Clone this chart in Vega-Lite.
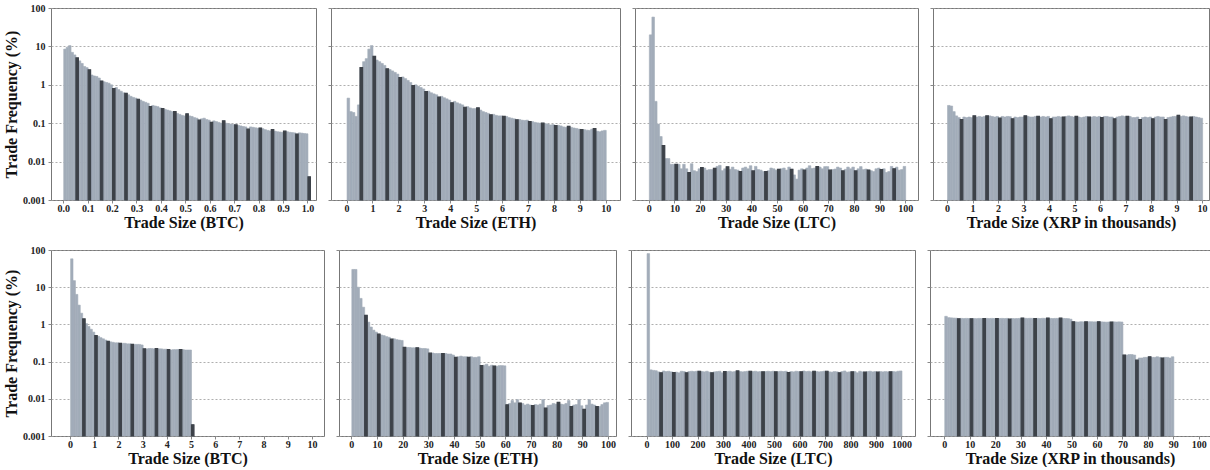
{
"$schema": "https://vega.github.io/schema/vega-lite/v6.json",
"background": "white",
"padding": {"left": 3, "top": 2, "right": 2, "bottom": 0},
"config": {
  "font": "Liberation Serif",
  "view": {"stroke": "#777777", "strokeWidth": 1},
  "bar": {"binSpacing": 0},
  "axis": {"labelFont": "Liberation Serif", "labelFontWeight": "bold", "labelFontSize": 10, "labelColor": "#222222", "titleFont": "Liberation Serif", "titleFontWeight": "bold", "titleFontSize": 16, "titleColor": "#111111", "domain": false, "tickColor": "#888888", "tickSize": 3, "gridColor": "#9a9a9a", "gridDash": [2, 2], "gridWidth": 0.8},
  "axisX": {"grid": false, "labelPadding": 0, "titlePadding": 1},
  "axisY": {"grid": true, "labelPadding": 3, "titlePadding": 3}
},
"datasets": {
"b1": [{"x":0,"y":8.5},{"x":0.01,"y":9.5},{"x":0.02,"y":10.5},{"x":0.03,"y":7},{"x":0.04,"y":6},{"x":0.05,"y":5,"r":1},{"x":0.06,"y":4.2},{"x":0.07,"y":3.6},{"x":0.08,"y":3},{"x":0.09,"y":2.8},{"x":0.1,"y":2.45,"r":1},{"x":0.11,"y":1.8},{"x":0.12,"y":1.7},{"x":0.13,"y":1.65},{"x":0.14,"y":1.5},{"x":0.15,"y":1.25,"r":1},{"x":0.16,"y":1.2},{"x":0.17,"y":1.15},{"x":0.18,"y":1.1},{"x":0.19,"y":1},{"x":0.2,"y":0.8,"r":1},{"x":0.21,"y":0.85},{"x":0.22,"y":0.75},{"x":0.23,"y":0.68},{"x":0.24,"y":0.62},{"x":0.25,"y":0.6,"r":1},{"x":0.26,"y":0.55},{"x":0.27,"y":0.5},{"x":0.28,"y":0.47},{"x":0.29,"y":0.45},{"x":0.3,"y":0.42,"r":1},{"x":0.31,"y":0.4},{"x":0.32,"y":0.37},{"x":0.33,"y":0.35},{"x":0.34,"y":0.33},{"x":0.35,"y":0.27,"r":1},{"x":0.36,"y":0.29},{"x":0.37,"y":0.28},{"x":0.38,"y":0.27},{"x":0.39,"y":0.25},{"x":0.4,"y":0.24,"r":1},{"x":0.41,"y":0.23},{"x":0.42,"y":0.22},{"x":0.43,"y":0.21},{"x":0.44,"y":0.2},{"x":0.45,"y":0.2,"r":1},{"x":0.46,"y":0.18},{"x":0.47,"y":0.17},{"x":0.48,"y":0.16},{"x":0.49,"y":0.155},{"x":0.5,"y":0.175,"r":1},{"x":0.51,"y":0.155},{"x":0.52,"y":0.15},{"x":0.53,"y":0.14},{"x":0.54,"y":0.135},{"x":0.55,"y":0.12,"r":1},{"x":0.56,"y":0.13},{"x":0.57,"y":0.135},{"x":0.58,"y":0.125},{"x":0.59,"y":0.12},{"x":0.6,"y":0.105,"r":1},{"x":0.61,"y":0.115},{"x":0.62,"y":0.11},{"x":0.63,"y":0.105},{"x":0.64,"y":0.1},{"x":0.65,"y":0.115,"r":1},{"x":0.66,"y":0.1},{"x":0.67,"y":0.097},{"x":0.68,"y":0.095},{"x":0.69,"y":0.093},{"x":0.7,"y":0.09,"r":1},{"x":0.71,"y":0.088},{"x":0.72,"y":0.085},{"x":0.73,"y":0.082},{"x":0.74,"y":0.08},{"x":0.75,"y":0.07,"r":1},{"x":0.76,"y":0.08},{"x":0.77,"y":0.078},{"x":0.78,"y":0.076},{"x":0.79,"y":0.074},{"x":0.8,"y":0.075,"r":1},{"x":0.81,"y":0.072},{"x":0.82,"y":0.068},{"x":0.83,"y":0.065},{"x":0.84,"y":0.063},{"x":0.85,"y":0.068,"r":1},{"x":0.86,"y":0.062},{"x":0.87,"y":0.06},{"x":0.88,"y":0.059},{"x":0.89,"y":0.058},{"x":0.9,"y":0.062,"r":1},{"x":0.91,"y":0.06},{"x":0.92,"y":0.058},{"x":0.93,"y":0.057},{"x":0.94,"y":0.056},{"x":0.95,"y":0.052,"r":1},{"x":0.96,"y":0.056},{"x":0.97,"y":0.055},{"x":0.98,"y":0.054},{"x":0.99,"y":0.053},{"x":1,"y":0.004,"r":1}],
"e1": [{"x":0,"y":0.45},{"x":0.1,"y":0.2},{"x":0.2,"y":0.19},{"x":0.3,"y":0.15},{"x":0.4,"y":0.3},{"x":0.5,"y":2.8,"r":1},{"x":0.6,"y":4},{"x":0.7,"y":4.8},{"x":0.8,"y":8.5},{"x":0.9,"y":10.5},{"x":1,"y":5.5,"r":1},{"x":1.1,"y":4.4},{"x":1.2,"y":4},{"x":1.3,"y":3.6},{"x":1.4,"y":3.2},{"x":1.5,"y":2.6,"r":1},{"x":1.6,"y":2.5},{"x":1.7,"y":2.3},{"x":1.8,"y":2.1},{"x":1.9,"y":1.9},{"x":2,"y":1.55,"r":1},{"x":2.1,"y":1.6},{"x":2.2,"y":1.45},{"x":2.3,"y":1.3},{"x":2.4,"y":1.15},{"x":2.5,"y":0.95,"r":1},{"x":2.6,"y":1},{"x":2.7,"y":0.92},{"x":2.8,"y":0.85},{"x":2.9,"y":0.78},{"x":3,"y":0.67,"r":1},{"x":3.1,"y":0.68},{"x":3.2,"y":0.62},{"x":3.3,"y":0.58},{"x":3.4,"y":0.55},{"x":3.5,"y":0.48,"r":1},{"x":3.6,"y":0.5},{"x":3.7,"y":0.46},{"x":3.8,"y":0.43},{"x":3.9,"y":0.4},{"x":4,"y":0.34,"r":1},{"x":4.1,"y":0.37},{"x":4.2,"y":0.34},{"x":4.3,"y":0.32},{"x":4.4,"y":0.3},{"x":4.5,"y":0.26,"r":1},{"x":4.6,"y":0.27},{"x":4.7,"y":0.25},{"x":4.8,"y":0.24},{"x":4.9,"y":0.24},{"x":5,"y":0.25,"r":1},{"x":5.1,"y":0.22},{"x":5.2,"y":0.2},{"x":5.3,"y":0.19},{"x":5.4,"y":0.18},{"x":5.5,"y":0.165,"r":1},{"x":5.6,"y":0.17},{"x":5.7,"y":0.16},{"x":5.8,"y":0.155},{"x":5.9,"y":0.155},{"x":6,"y":0.15,"r":1},{"x":6.1,"y":0.15},{"x":6.2,"y":0.14},{"x":6.3,"y":0.135},{"x":6.4,"y":0.13},{"x":6.5,"y":0.123,"r":1},{"x":6.6,"y":0.125},{"x":6.7,"y":0.12},{"x":6.8,"y":0.118},{"x":6.9,"y":0.12},{"x":7,"y":0.11,"r":1},{"x":7.1,"y":0.11},{"x":7.2,"y":0.105},{"x":7.3,"y":0.102},{"x":7.4,"y":0.1},{"x":7.5,"y":0.1,"r":1},{"x":7.6,"y":0.097},{"x":7.7,"y":0.095},{"x":7.8,"y":0.09},{"x":7.9,"y":0.092},{"x":8,"y":0.087,"r":1},{"x":8.1,"y":0.088},{"x":8.2,"y":0.085},{"x":8.3,"y":0.08},{"x":8.4,"y":0.078},{"x":8.5,"y":0.083,"r":1},{"x":8.6,"y":0.078},{"x":8.7,"y":0.075},{"x":8.8,"y":0.073},{"x":8.9,"y":0.07},{"x":9,"y":0.068,"r":1},{"x":9.1,"y":0.068},{"x":9.2,"y":0.066},{"x":9.3,"y":0.065},{"x":9.4,"y":0.07},{"x":9.5,"y":0.072,"r":1},{"x":9.6,"y":0.062},{"x":9.7,"y":0.06},{"x":9.8,"y":0.063},{"x":9.9,"y":0.065}],
"l1": [{"x":0,"y":20},{"x":1,"y":58},{"x":2,"y":0.37},{"x":3,"y":0.095},{"x":4,"y":0.045},{"x":5,"y":0.026,"r":1},{"x":6,"y":0.012},{"x":7,"y":0.012},{"x":8,"y":0.0085},{"x":9,"y":0.0085},{"x":10,"y":0.0085,"r":1},{"x":11,"y":0.0085},{"x":12,"y":0.0065},{"x":13,"y":0.0085},{"x":14,"y":0.0065},{"x":15,"y":0.0052,"r":1},{"x":16,"y":0.0088},{"x":17,"y":0.0058},{"x":18,"y":0.0055},{"x":19,"y":0.0065},{"x":20,"y":0.007,"r":1},{"x":21,"y":0.0068},{"x":22,"y":0.006},{"x":23,"y":0.0062},{"x":24,"y":0.0062},{"x":25,"y":0.0067,"r":1},{"x":26,"y":0.0075},{"x":27,"y":0.008},{"x":28,"y":0.0058},{"x":29,"y":0.0065},{"x":30,"y":0.0073,"r":1},{"x":31,"y":0.0063},{"x":32,"y":0.0072},{"x":33,"y":0.0062},{"x":34,"y":0.006},{"x":35,"y":0.0055,"r":1},{"x":36,"y":0.0068},{"x":37,"y":0.0072},{"x":38,"y":0.0065},{"x":39,"y":0.0078},{"x":40,"y":0.0057,"r":1},{"x":41,"y":0.0075},{"x":42,"y":0.0062},{"x":43,"y":0.006},{"x":44,"y":0.0055},{"x":45,"y":0.0055,"r":1},{"x":46,"y":0.0058},{"x":47,"y":0.0068},{"x":48,"y":0.0065},{"x":49,"y":0.006},{"x":50,"y":0.0063,"r":1},{"x":51,"y":0.0065},{"x":52,"y":0.0068},{"x":53,"y":0.006},{"x":54,"y":0.0072},{"x":55,"y":0.0063,"r":1},{"x":56,"y":0.0045},{"x":57,"y":0.0035},{"x":58,"y":0.006},{"x":59,"y":0.0065},{"x":60,"y":0.006,"r":1},{"x":61,"y":0.0068},{"x":62,"y":0.0078},{"x":63,"y":0.0066},{"x":64,"y":0.0068},{"x":65,"y":0.0074,"r":1},{"x":66,"y":0.0072},{"x":67,"y":0.0065},{"x":68,"y":0.0074},{"x":69,"y":0.0074},{"x":70,"y":0.006,"r":1},{"x":71,"y":0.0062},{"x":72,"y":0.0064},{"x":73,"y":0.0072},{"x":74,"y":0.0068},{"x":75,"y":0.0057,"r":1},{"x":76,"y":0.0063},{"x":77,"y":0.0072},{"x":78,"y":0.0065},{"x":79,"y":0.0072},{"x":80,"y":0.0057,"r":1},{"x":81,"y":0.0065},{"x":82,"y":0.0074},{"x":83,"y":0.0062},{"x":84,"y":0.0064},{"x":85,"y":0.006,"r":1},{"x":86,"y":0.0058},{"x":87,"y":0.0055},{"x":88,"y":0.0065},{"x":89,"y":0.0068},{"x":90,"y":0.0062,"r":1},{"x":91,"y":0.0065},{"x":92,"y":0.0052},{"x":93,"y":0.0055},{"x":94,"y":0.0075},{"x":95,"y":0.0065,"r":1},{"x":96,"y":0.0072},{"x":97,"y":0.006},{"x":98,"y":0.0062},{"x":99,"y":0.0075}],
"x1": [{"x":0,"y":0.29},{"x":0.1,"y":0.28},{"x":0.2,"y":0.2},{"x":0.3,"y":0.155},{"x":0.4,"y":0.14},{"x":0.5,"y":0.125,"r":1},{"x":0.6,"y":0.145},{"x":0.7,"y":0.14},{"x":0.8,"y":0.145},{"x":0.9,"y":0.14},{"x":1,"y":0.155,"r":1},{"x":1.1,"y":0.145},{"x":1.2,"y":0.15},{"x":1.3,"y":0.145},{"x":1.4,"y":0.15},{"x":1.5,"y":0.155,"r":1},{"x":1.6,"y":0.155},{"x":1.7,"y":0.15},{"x":1.8,"y":0.145},{"x":1.9,"y":0.15},{"x":2,"y":0.135,"r":1},{"x":2.1,"y":0.15},{"x":2.2,"y":0.145},{"x":2.3,"y":0.15},{"x":2.4,"y":0.148},{"x":2.5,"y":0.13,"r":1},{"x":2.6,"y":0.145},{"x":2.7,"y":0.14},{"x":2.8,"y":0.145},{"x":2.9,"y":0.145},{"x":3,"y":0.155,"r":1},{"x":3.1,"y":0.15},{"x":3.2,"y":0.145},{"x":3.3,"y":0.145},{"x":3.4,"y":0.15},{"x":3.5,"y":0.15,"r":1},{"x":3.6,"y":0.145},{"x":3.7,"y":0.15},{"x":3.8,"y":0.145},{"x":3.9,"y":0.15},{"x":4,"y":0.13,"r":1},{"x":4.1,"y":0.145},{"x":4.2,"y":0.145},{"x":4.3,"y":0.15},{"x":4.4,"y":0.145},{"x":4.5,"y":0.145,"r":1},{"x":4.6,"y":0.15},{"x":4.7,"y":0.155},{"x":4.8,"y":0.15},{"x":4.9,"y":0.145},{"x":5,"y":0.15,"r":1},{"x":5.1,"y":0.145},{"x":5.2,"y":0.14},{"x":5.3,"y":0.145},{"x":5.4,"y":0.15},{"x":5.5,"y":0.145,"r":1},{"x":5.6,"y":0.145},{"x":5.7,"y":0.15},{"x":5.8,"y":0.145},{"x":5.9,"y":0.15},{"x":6,"y":0.14,"r":1},{"x":6.1,"y":0.15},{"x":6.2,"y":0.15},{"x":6.3,"y":0.145},{"x":6.4,"y":0.145},{"x":6.5,"y":0.13,"r":1},{"x":6.6,"y":0.145},{"x":6.7,"y":0.15},{"x":6.8,"y":0.155},{"x":6.9,"y":0.15},{"x":7,"y":0.15,"r":1},{"x":7.1,"y":0.15},{"x":7.2,"y":0.14},{"x":7.3,"y":0.14},{"x":7.4,"y":0.145},{"x":7.5,"y":0.125,"r":1},{"x":7.6,"y":0.14},{"x":7.7,"y":0.145},{"x":7.8,"y":0.14},{"x":7.9,"y":0.145},{"x":8,"y":0.13,"r":1},{"x":8.1,"y":0.145},{"x":8.2,"y":0.15},{"x":8.3,"y":0.145},{"x":8.4,"y":0.145},{"x":8.5,"y":0.125,"r":1},{"x":8.6,"y":0.14},{"x":8.7,"y":0.145},{"x":8.8,"y":0.15},{"x":8.9,"y":0.15},{"x":9,"y":0.16,"r":1},{"x":9.1,"y":0.15},{"x":9.2,"y":0.155},{"x":9.3,"y":0.15},{"x":9.4,"y":0.145},{"x":9.5,"y":0.145,"r":1},{"x":9.6,"y":0.15},{"x":9.7,"y":0.145},{"x":9.8,"y":0.14},{"x":9.9,"y":0.135}],
"b2": [{"x":0,"y":58},{"x":0.1,"y":15},{"x":0.2,"y":6.4},{"x":0.3,"y":3.3},{"x":0.4,"y":2},{"x":0.5,"y":1.4,"r":1},{"x":0.6,"y":1.05},{"x":0.7,"y":0.88},{"x":0.8,"y":0.74},{"x":0.9,"y":0.62},{"x":1,"y":0.5,"r":1},{"x":1.1,"y":0.48},{"x":1.2,"y":0.44},{"x":1.3,"y":0.41},{"x":1.4,"y":0.38},{"x":1.5,"y":0.35,"r":1},{"x":1.6,"y":0.34},{"x":1.7,"y":0.33},{"x":1.8,"y":0.32},{"x":1.9,"y":0.32},{"x":2,"y":0.31,"r":1},{"x":2.1,"y":0.31},{"x":2.2,"y":0.31},{"x":2.3,"y":0.3},{"x":2.4,"y":0.3},{"x":2.5,"y":0.29,"r":1},{"x":2.6,"y":0.29},{"x":2.7,"y":0.29},{"x":2.8,"y":0.29},{"x":2.9,"y":0.28},{"x":3,"y":0.22,"r":1},{"x":3.1,"y":0.22},{"x":3.2,"y":0.225},{"x":3.3,"y":0.225},{"x":3.4,"y":0.22},{"x":3.5,"y":0.225,"r":1},{"x":3.6,"y":0.22},{"x":3.7,"y":0.22},{"x":3.8,"y":0.215},{"x":3.9,"y":0.215},{"x":4,"y":0.21,"r":1},{"x":4.1,"y":0.205},{"x":4.2,"y":0.21},{"x":4.3,"y":0.21},{"x":4.4,"y":0.21},{"x":4.5,"y":0.21,"r":1},{"x":4.6,"y":0.21},{"x":4.7,"y":0.205},{"x":4.8,"y":0.205},{"x":4.9,"y":0.205},{"x":5,"y":0.002,"r":1}],
"e2": [{"x":0,"y":30},{"x":1,"y":30},{"x":2,"y":10},{"x":3,"y":5},{"x":4,"y":2.9},{"x":5,"y":1.75,"r":1},{"x":6,"y":1.15},{"x":7,"y":0.85},{"x":8,"y":0.7},{"x":9,"y":0.62},{"x":10,"y":0.55,"r":1},{"x":11,"y":0.52},{"x":12,"y":0.5},{"x":13,"y":0.47},{"x":14,"y":0.45},{"x":15,"y":0.4,"r":1},{"x":16,"y":0.41},{"x":17,"y":0.39},{"x":18,"y":0.38},{"x":19,"y":0.37},{"x":20,"y":0.24,"r":1},{"x":21,"y":0.24},{"x":22,"y":0.24},{"x":23,"y":0.235},{"x":24,"y":0.235},{"x":25,"y":0.235,"r":1},{"x":26,"y":0.23},{"x":27,"y":0.225},{"x":28,"y":0.225},{"x":29,"y":0.22},{"x":30,"y":0.168,"r":1},{"x":31,"y":0.17},{"x":32,"y":0.165},{"x":33,"y":0.165},{"x":34,"y":0.165},{"x":35,"y":0.165,"r":1},{"x":36,"y":0.165},{"x":37,"y":0.16},{"x":38,"y":0.16},{"x":39,"y":0.15},{"x":40,"y":0.13,"r":1},{"x":41,"y":0.135},{"x":42,"y":0.14},{"x":43,"y":0.135},{"x":44,"y":0.135},{"x":45,"y":0.13,"r":1},{"x":46,"y":0.135},{"x":47,"y":0.13},{"x":48,"y":0.13},{"x":49,"y":0.135},{"x":50,"y":0.078,"r":1},{"x":51,"y":0.08},{"x":52,"y":0.085},{"x":53,"y":0.075},{"x":54,"y":0.08},{"x":55,"y":0.076,"r":1},{"x":56,"y":0.075},{"x":57,"y":0.078},{"x":58,"y":0.078},{"x":59,"y":0.077},{"x":60,"y":0.0069,"r":1},{"x":61,"y":0.0075},{"x":62,"y":0.009},{"x":63,"y":0.0078},{"x":64,"y":0.0095},{"x":65,"y":0.0077,"r":1},{"x":66,"y":0.0075},{"x":67,"y":0.0068},{"x":68,"y":0.0072},{"x":69,"y":0.0068},{"x":70,"y":0.0066,"r":1},{"x":71,"y":0.007},{"x":72,"y":0.0068},{"x":73,"y":0.0072},{"x":74,"y":0.0095},{"x":75,"y":0.0056,"r":1},{"x":76,"y":0.0066},{"x":77,"y":0.0068},{"x":78,"y":0.0075},{"x":79,"y":0.0072},{"x":80,"y":0.008,"r":1},{"x":81,"y":0.0072},{"x":82,"y":0.007},{"x":83,"y":0.0075},{"x":84,"y":0.009},{"x":85,"y":0.0062,"r":1},{"x":86,"y":0.0068},{"x":87,"y":0.007},{"x":88,"y":0.0095},{"x":89,"y":0.0065},{"x":90,"y":0.0052,"r":1},{"x":91,"y":0.0068},{"x":92,"y":0.0095},{"x":93,"y":0.0072},{"x":94,"y":0.0068},{"x":95,"y":0.0062,"r":1},{"x":96,"y":0.0062},{"x":97,"y":0.007},{"x":98,"y":0.0078},{"x":99,"y":0.008}],
"l2": [{"x":0,"y":80},{"x":10,"y":0.06},{"x":20,"y":0.058},{"x":30,"y":0.057},{"x":40,"y":0.053},{"x":50,"y":0.05,"r":1},{"x":60,"y":0.056},{"x":70,"y":0.054},{"x":80,"y":0.055},{"x":90,"y":0.053},{"x":100,"y":0.051,"r":1},{"x":110,"y":0.052},{"x":120,"y":0.05},{"x":130,"y":0.055},{"x":140,"y":0.054},{"x":150,"y":0.05,"r":1},{"x":160,"y":0.054},{"x":170,"y":0.055},{"x":180,"y":0.054},{"x":190,"y":0.055},{"x":200,"y":0.055,"r":1},{"x":210,"y":0.054},{"x":220,"y":0.053},{"x":230,"y":0.055},{"x":240,"y":0.052},{"x":250,"y":0.05,"r":1},{"x":260,"y":0.053},{"x":270,"y":0.054},{"x":280,"y":0.055},{"x":290,"y":0.05},{"x":300,"y":0.054,"r":1},{"x":310,"y":0.054},{"x":320,"y":0.055},{"x":330,"y":0.053},{"x":340,"y":0.054},{"x":350,"y":0.056,"r":1},{"x":360,"y":0.054},{"x":370,"y":0.053},{"x":380,"y":0.054},{"x":390,"y":0.055},{"x":400,"y":0.055,"r":1},{"x":410,"y":0.054},{"x":420,"y":0.055},{"x":430,"y":0.053},{"x":440,"y":0.054},{"x":450,"y":0.053,"r":1},{"x":460,"y":0.054},{"x":470,"y":0.055},{"x":480,"y":0.054},{"x":490,"y":0.055},{"x":500,"y":0.053,"r":1},{"x":510,"y":0.054},{"x":520,"y":0.055},{"x":530,"y":0.054},{"x":540,"y":0.055},{"x":550,"y":0.051,"r":1},{"x":560,"y":0.054},{"x":570,"y":0.053},{"x":580,"y":0.055},{"x":590,"y":0.054},{"x":600,"y":0.053,"r":1},{"x":610,"y":0.056},{"x":620,"y":0.054},{"x":630,"y":0.055},{"x":640,"y":0.053},{"x":650,"y":0.055,"r":1},{"x":660,"y":0.054},{"x":670,"y":0.053},{"x":680,"y":0.054},{"x":690,"y":0.055},{"x":700,"y":0.055,"r":1},{"x":710,"y":0.053},{"x":720,"y":0.052},{"x":730,"y":0.054},{"x":740,"y":0.053},{"x":750,"y":0.05,"r":1},{"x":760,"y":0.054},{"x":770,"y":0.056},{"x":780,"y":0.052},{"x":790,"y":0.053},{"x":800,"y":0.053,"r":1},{"x":810,"y":0.054},{"x":820,"y":0.05},{"x":830,"y":0.055},{"x":840,"y":0.053},{"x":850,"y":0.052,"r":1},{"x":860,"y":0.054},{"x":870,"y":0.055},{"x":880,"y":0.053},{"x":890,"y":0.054},{"x":900,"y":0.052,"r":1},{"x":910,"y":0.054},{"x":920,"y":0.053},{"x":930,"y":0.054},{"x":940,"y":0.053},{"x":950,"y":0.053,"r":1},{"x":960,"y":0.054},{"x":970,"y":0.053},{"x":980,"y":0.055},{"x":990,"y":0.056}],
"x2": [{"x":0,"y":1.65},{"x":1,"y":1.52},{"x":2,"y":1.5},{"x":3,"y":1.48},{"x":4,"y":1.47},{"x":5,"y":1.42,"r":1},{"x":6,"y":1.45},{"x":7,"y":1.44},{"x":8,"y":1.45},{"x":9,"y":1.44},{"x":10,"y":1.42,"r":1},{"x":11,"y":1.44},{"x":12,"y":1.43},{"x":13,"y":1.45},{"x":14,"y":1.44},{"x":15,"y":1.43,"r":1},{"x":16,"y":1.45},{"x":17,"y":1.44},{"x":18,"y":1.45},{"x":19,"y":1.44},{"x":20,"y":1.43,"r":1},{"x":21,"y":1.44},{"x":22,"y":1.45},{"x":23,"y":1.44},{"x":24,"y":1.45},{"x":25,"y":1.38,"r":1},{"x":26,"y":1.44},{"x":27,"y":1.43},{"x":28,"y":1.44},{"x":29,"y":1.45},{"x":30,"y":1.48,"r":1},{"x":31,"y":1.46},{"x":32,"y":1.45},{"x":33,"y":1.46},{"x":34,"y":1.45},{"x":35,"y":1.44,"r":1},{"x":36,"y":1.45},{"x":37,"y":1.44},{"x":38,"y":1.46},{"x":39,"y":1.45},{"x":40,"y":1.47,"r":1},{"x":41,"y":1.45},{"x":42,"y":1.44},{"x":43,"y":1.45},{"x":44,"y":1.45},{"x":45,"y":1.47,"r":1},{"x":46,"y":1.45},{"x":47,"y":1.44},{"x":48,"y":1.43},{"x":49,"y":1.38},{"x":50,"y":1.18,"r":1},{"x":51,"y":1.17},{"x":52,"y":1.16},{"x":53,"y":1.18},{"x":54,"y":1.17},{"x":55,"y":1.17,"r":1},{"x":56,"y":1.18},{"x":57,"y":1.18},{"x":58,"y":1.17},{"x":59,"y":1.17},{"x":60,"y":1.18,"r":1},{"x":61,"y":1.17},{"x":62,"y":1.16},{"x":63,"y":1.15},{"x":64,"y":1.16},{"x":65,"y":1.16,"r":1},{"x":66,"y":1.17},{"x":67,"y":1.16},{"x":68,"y":1.17},{"x":69,"y":1.16},{"x":70,"y":0.15,"r":1},{"x":71,"y":0.15},{"x":72,"y":0.155},{"x":73,"y":0.155},{"x":74,"y":0.15},{"x":75,"y":0.11,"r":1},{"x":76,"y":0.125},{"x":77,"y":0.125},{"x":78,"y":0.13},{"x":79,"y":0.13},{"x":80,"y":0.135,"r":1},{"x":81,"y":0.13},{"x":82,"y":0.13},{"x":83,"y":0.135},{"x":84,"y":0.13},{"x":85,"y":0.125,"r":1},{"x":86,"y":0.13},{"x":87,"y":0.13},{"x":88,"y":0.125},{"x":89,"y":0.135}]
},
"spacing": 13,
"vconcat": [
{"spacing": 10, "hconcat": [
 {"width": 265, "height": 192, "data": {"name": "b1"},
  "encoding": {
   "x": {"field": "x", "type": "quantitative", "bin": {"binned": true, "step": 0.01}, "scale": {"domain": [-0.05, 1.035], "nice": false}, "axis": {"title": "Trade Size (BTC)", "values": [0, 0.1, 0.2, 0.3, 0.4, 0.5, 0.6, 0.7, 0.8, 0.9, 1], "format": ".1f"}},
   "y": {"field": "y", "type": "quantitative", "scale": {"type": "log", "domain": [0.001, 100], "nice": false}, "axis": {"title": "Trade Frequency (%)", "values": [0.001, 0.01, 0.1, 1, 10, 100], "format": "~g"}},
   "y2": {"datum": 0.001}},
  "layer": [
   {"mark": {"type": "bar", "color": "#a2acb9", "stroke": "#a2acb9", "strokeWidth": 0.6}},
   {"transform": [{"filter": "datum.r == 1"}], "mark": {"type": "bar", "color": "#3d4249", "stroke": "#3d4249", "strokeWidth": 1.2}}]},
 {"width": 289, "height": 192, "data": {"name": "e1"},
  "encoding": {
   "x": {"field": "x", "type": "quantitative", "bin": {"binned": true, "step": 0.1}, "scale": {"domain": [-0.6, 10.55], "nice": false}, "axis": {"title": "Trade Size (ETH)", "values": [0, 1, 2, 3, 4, 5, 6, 7, 8, 9, 10], "format": "d"}},
   "y": {"field": "y", "type": "quantitative", "scale": {"type": "log", "domain": [0.001, 100], "nice": false}, "axis": {"title": null, "labels": false, "values": [0.001, 0.01, 0.1, 1, 10, 100]}},
   "y2": {"datum": 0.001}},
  "layer": [
   {"mark": {"type": "bar", "color": "#a2acb9", "stroke": "#a2acb9", "strokeWidth": 0.6}},
   {"transform": [{"filter": "datum.r == 1"}], "mark": {"type": "bar", "color": "#3d4249", "stroke": "#3d4249", "strokeWidth": 1.2}}]},
 {"width": 283, "height": 192, "data": {"name": "l1"},
  "encoding": {
   "x": {"field": "x", "type": "quantitative", "bin": {"binned": true, "step": 1}, "scale": {"domain": [-5.4, 105], "nice": false}, "axis": {"title": "Trade Size (LTC)", "values": [0, 10, 20, 30, 40, 50, 60, 70, 80, 90, 100], "format": "d"}},
   "y": {"field": "y", "type": "quantitative", "scale": {"type": "log", "domain": [0.001, 100], "nice": false}, "axis": {"title": null, "labels": false, "values": [0.001, 0.01, 0.1, 1, 10, 100]}},
   "y2": {"datum": 0.001}},
  "layer": [
   {"mark": {"type": "bar", "color": "#a2acb9", "stroke": "#a2acb9", "strokeWidth": 0.6}},
   {"transform": [{"filter": "datum.r == 1"}], "mark": {"type": "bar", "color": "#3d4249", "stroke": "#3d4249", "strokeWidth": 1.2}}]},
 {"width": 276, "height": 192, "data": {"name": "x1"},
  "encoding": {
   "x": {"field": "x", "type": "quantitative", "bin": {"binned": true, "step": 0.1}, "scale": {"domain": [-0.55, 10.27], "nice": false}, "axis": {"title": "Trade Size (XRP in thousands)", "values": [0, 1, 2, 3, 4, 5, 6, 7, 8, 9, 10], "format": "d"}},
   "y": {"field": "y", "type": "quantitative", "scale": {"type": "log", "domain": [0.001, 100], "nice": false}, "axis": {"title": null, "labels": false, "values": [0.001, 0.01, 0.1, 1, 10, 100]}},
   "y2": {"datum": 0.001}},
  "layer": [
   {"mark": {"type": "bar", "color": "#a2acb9", "stroke": "#a2acb9", "strokeWidth": 0.6}},
   {"transform": [{"filter": "datum.r == 1"}], "mark": {"type": "bar", "color": "#3d4249", "stroke": "#3d4249", "strokeWidth": 1.2}}]}
]},
{"spacing": 10, "hconcat": [
 {"width": 273, "height": 186, "data": {"name": "b2"},
  "encoding": {
   "x": {"field": "x", "type": "quantitative", "bin": {"binned": true, "step": 0.1}, "scale": {"domain": [-0.79, 10.5], "nice": false}, "axis": {"title": "Trade Size (BTC)", "values": [0, 1, 2, 3, 4, 5, 6, 7, 8, 9, 10], "format": "d"}},
   "y": {"field": "y", "type": "quantitative", "scale": {"type": "log", "domain": [0.001, 100], "nice": false}, "axis": {"title": "Trade Frequency (%)", "values": [0.001, 0.01, 0.1, 1, 10, 100], "format": "~g"}},
   "y2": {"datum": 0.001}},
  "layer": [
   {"mark": {"type": "bar", "color": "#a2acb9", "stroke": "#a2acb9", "strokeWidth": 0.6}},
   {"transform": [{"filter": "datum.r == 1"}], "mark": {"type": "bar", "color": "#3d4249", "stroke": "#3d4249", "strokeWidth": 1.2}}]},
 {"width": 277, "height": 186, "data": {"name": "e2"},
  "encoding": {
   "x": {"field": "x", "type": "quantitative", "bin": {"binned": true, "step": 1}, "scale": {"domain": [-4.8, 103.1], "nice": false}, "axis": {"title": "Trade Size (ETH)", "values": [0, 10, 20, 30, 40, 50, 60, 70, 80, 90, 100], "format": "d"}},
   "y": {"field": "y", "type": "quantitative", "scale": {"type": "log", "domain": [0.001, 100], "nice": false}, "axis": {"title": null, "labels": false, "values": [0.001, 0.01, 0.1, 1, 10, 100]}},
   "y2": {"datum": 0.001}},
  "layer": [
   {"mark": {"type": "bar", "color": "#a2acb9", "stroke": "#a2acb9", "strokeWidth": 0.6}},
   {"transform": [{"filter": "datum.r == 1"}], "mark": {"type": "bar", "color": "#3d4249", "stroke": "#3d4249", "strokeWidth": 1.2}}]},
 {"width": 284, "height": 186, "data": {"name": "l2"},
  "encoding": {
   "x": {"field": "x", "type": "quantitative", "bin": {"binned": true, "step": 10}, "scale": {"domain": [-61, 1053], "nice": false}, "axis": {"title": "Trade Size (LTC)", "values": [0, 100, 200, 300, 400, 500, 600, 700, 800, 900, 1000], "format": "d"}},
   "y": {"field": "y", "type": "quantitative", "scale": {"type": "log", "domain": [0.001, 100], "nice": false}, "axis": {"title": null, "labels": false, "values": [0.001, 0.01, 0.1, 1, 10, 100]}},
   "y2": {"datum": 0.001}},
  "layer": [
   {"mark": {"type": "bar", "color": "#a2acb9", "stroke": "#a2acb9", "strokeWidth": 0.6}},
   {"transform": [{"filter": "datum.r == 1"}], "mark": {"type": "bar", "color": "#3d4249", "stroke": "#3d4249", "strokeWidth": 1.2}}]},
 {"width": 280, "height": 186, "data": {"name": "x2"},
  "encoding": {
   "x": {"field": "x", "type": "quantitative", "bin": {"binned": true, "step": 1}, "scale": {"domain": [-5.6, 104.4], "nice": false}, "axis": {"title": "Trade Size (XRP in thousands)", "values": [0, 10, 20, 30, 40, 50, 60, 70, 80, 90, 100], "format": "d"}},
   "y": {"field": "y", "type": "quantitative", "scale": {"type": "log", "domain": [0.001, 100], "nice": false}, "axis": {"title": null, "labels": false, "values": [0.001, 0.01, 0.1, 1, 10, 100]}},
   "y2": {"datum": 0.001}},
  "layer": [
   {"mark": {"type": "bar", "color": "#a2acb9", "stroke": "#a2acb9", "strokeWidth": 0.6}},
   {"transform": [{"filter": "datum.r == 1"}], "mark": {"type": "bar", "color": "#3d4249", "stroke": "#3d4249", "strokeWidth": 1.2}}]}
]}
]
}
